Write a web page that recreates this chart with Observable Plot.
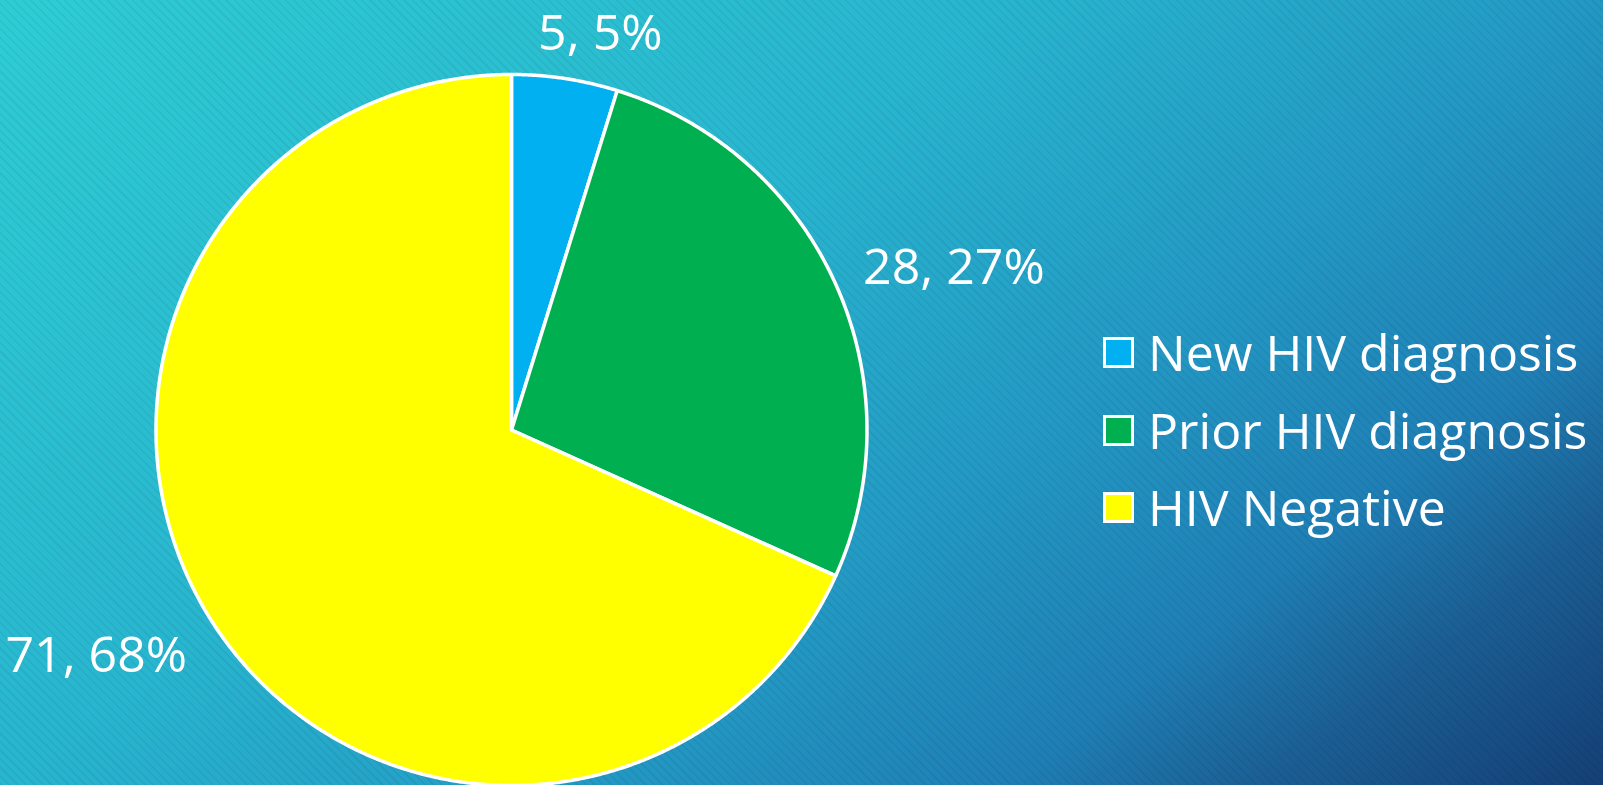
<!DOCTYPE html>
<html>
<head>
<meta charset="utf-8">
<script src="https://cdn.jsdelivr.net/npm/d3@7"></script>
<script src="https://cdn.jsdelivr.net/npm/@observablehq/plot@0.6"></script>
<style>
  html, body { margin: 0; padding: 0; width: 1603px; height: 785px; overflow: hidden; }
  body {
    position: relative;
    font-family: "Open Sans", "Noto Sans", sans-serif;
    background:
      repeating-linear-gradient(45deg, rgba(0,0,0,0.055) 0px, rgba(0,0,0,0.055) 1.6px, rgba(0,0,0,0) 1.6px, rgba(0,0,0,0) 6px),
      linear-gradient(142deg, #2ecdd4 0%, #28b5cf 39%, #2399c4 61%, #1f7fb5 77%, #1b5e93 87%, #143f76 100%);
  }
  #chart { position: absolute; left: 0; top: 0; }
  #legend { position: absolute; left: 1103px; top: 0; color: white; }
  .row { position: absolute; left: 0; display: flex; align-items: center; white-space: nowrap; }
  .sw { width: 25px; height: 25px; border: 3px solid white; box-sizing: content-box; margin-right: 14px; }
  .lt { font-size: 50px; line-height: 60px; }
</style>
</head>
<body>
<div id="chart"></div>
<div id="legend"></div>
<script>
// ---- data ----
const categories = ["New HIV diagnosis", "Prior HIV diagnosis", "HIV Negative"];
const counts = [5, 28, 71];
const colors = ["#00B0F0", "#00B050", "#FFFF00"];

// ---- layout (not data) ----
const labelNudge = [[30, 7], [-5, 14], [4, 30]]; // px offsets for the outside labels
const legendRowTop = [322, 400, 477];

const total = d3.sum(counts);
const pieGen = d3.pie().sort(null).value(d => d)(counts);

function pt(angle, r) { return [r * Math.sin(angle), r * Math.cos(angle)]; }

const features = pieGen.map((p, i) => {
  const n = Math.max(2, Math.ceil((p.endAngle - p.startAngle) / (Math.PI / 720)));
  const ring = [[0, 0]];
  for (let k = 0; k <= n; k++) ring.push(pt(p.startAngle + (p.endAngle - p.startAngle) * k / n, 1));
  ring.push([0, 0]);
  return {type: "Feature", properties: {category: categories[i]}, geometry: {type: "Polygon", coordinates: [ring]}};
});

const circle = [];
for (let k = 0; k <= 360; k++) circle.push(pt(k * Math.PI / 180, 1));
const domain = {type: "Feature", geometry: {type: "Polygon", coordinates: [circle]}};

const labels = pieGen.map((p, i) => {
  const mid = (p.startAngle + p.endAngle) / 2;
  const [x, y] = pt(mid, 1.1);
  const s = Math.sin(mid);
  return {
    x, y,
    text: `${counts[i]}, ${Math.round(counts[i] / total * 100)}%`,
    anchor: Math.abs(s) < 0.4 ? "middle" : (s > 0 ? "start" : "end"),
    dx: labelNudge[i][0], dy: labelNudge[i][1]
  };
});

const plot = Plot.plot({
  width: 1603,
  height: 785,
  marginLeft: 155, marginRight: 736, marginTop: 74, marginBottom: 0,
  projection: {type: "reflect-y", domain, clip: false},
  color: {domain: categories, range: colors},
  style: {background: "transparent", overflow: "visible"},
  marks: [
    Plot.geo(features, {fill: d => d.properties.category, stroke: "white", strokeWidth: 3.5, strokeLinejoin: "round", clip: false}),
    ...labels.map(l => Plot.text([l], {
      x: "x", y: "y", text: "text",
      textAnchor: l.anchor, lineAnchor: "bottom",
      dx: l.dx, dy: l.dy, clip: false,
      fill: "white", fontSize: 50, fontFamily: "Open Sans, Noto Sans, sans-serif"
    }))
  ]
});
document.getElementById("chart").appendChild(plot);

// legend, colours taken from the plot's color scale
const color = plot.scale("color");
const legend = d3.select("#legend");
categories.forEach((c, i) => {
  const row = legend.append("div").attr("class", "row").style("top", legendRowTop[i] + "px");
  row.append("div").attr("class", "sw").style("background", color.apply(c));
  row.append("div").attr("class", "lt").text(c);
});
</script>
</body>
</html>
